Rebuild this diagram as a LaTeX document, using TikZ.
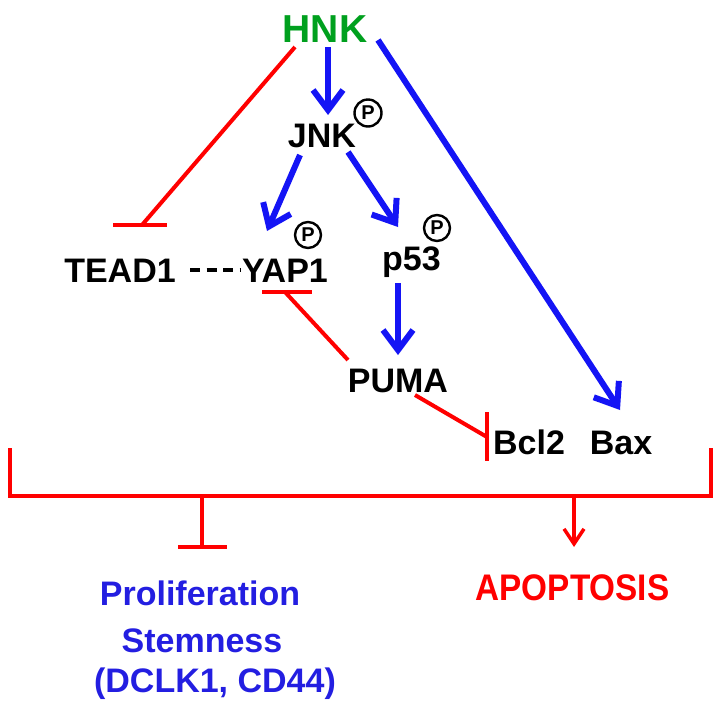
\documentclass[tikz,border=0pt]{standalone}
\usepackage{fontspec}
\setmainfont{Liberation Sans}
\newfontfamily\narrowf{Liberation Sans}[FakeStretch=0.9]
\usetikzlibrary{arrows.meta}
\definecolor{hnkgreen}{RGB}{0,160,30}
\definecolor{arrblue}{RGB}{20,20,245}
\definecolor{txtblue}{RGB}{35,30,225}
\definecolor{inhred}{RGB}{255,0,0}
\begin{document}
\begin{tikzpicture}[x=1pt,y=-1pt,
  lab/.style={inner sep=0pt,anchor=base,font=\fontsize{34}{40}\selectfont\bfseries},
  act/.style={draw=arrblue,line width=6pt,-{Straight Barb[length=20pt,width=30pt]}},
  inh/.style={draw=inhred,line width=4pt},
  brk/.style={draw=inhred,line width=4pt},
  phos/.style={circle,draw,line width=2.4pt,inner sep=0pt,minimum size=27pt,font=\fontsize{20}{20}\selectfont\bfseries}]
\useasboundingbox (0,0) rectangle (720,705);
% labels
\node[lab,text=hnkgreen,font=\fontsize{39}{44}\selectfont\bfseries] (hnk) at (325,42) {HNK};
\node[lab] (jnk) at (322,147) {JNK};
\node[lab] (tead) at (120,282) {TEAD1};
\node[lab] (yap) at (285,282) {YAP1};
\node[lab] (p53) at (411.5,270) {p53};
\node[lab] (puma) at (398,392) {PUMA};
\node[lab] (bcl) at (529,454) {Bcl2};
\node[lab] (bax) at (621,454) {Bax};
\node[phos] (pj) at (368,113) {P};
\node[phos,minimum size=26pt] (py) at (308,235) {P};
\node[phos,minimum size=26pt] (pp) at (437,228) {P};
\node[lab,text=txtblue] (prol) at (200,605) {Proliferation};
\node[lab,text=txtblue] (stem) at (202,652) {Stemness};
\node[lab,text=txtblue] (dclk) at (215,692) {(DCLK1, CD44)};
\node[lab,text=inhred,font=\fontsize{37}{42}\selectfont\bfseries\narrowf] (apo) at (572.5,600) {APOPTOSIS};
% endpoints
\coordinate (a1s) at (328,47);  \coordinate (a1e) at (328,115);
\coordinate (a2s) at (300,155); \coordinate (a2e) at (267,231);
\coordinate (a3s) at (348,152); \coordinate (a3e) at (398,227);
\coordinate (a4s) at (398,283); \coordinate (a4e) at (398,355);
\coordinate (a5s) at (378,40);  \coordinate (a5e) at (620,410);
\coordinate (i1s) at (295,47);  \coordinate (i1e) at (142,225);
\coordinate (i2s) at (348,360); \coordinate (i2e) at (285,292);
\coordinate (i3s) at (415,395); \coordinate (i3e) at (487,437);
\coordinate (ds) at (190,270);  \coordinate (de) at (240.5,270);
\coordinate (bl) at (10,448); \coordinate (blc) at (10,496);
\coordinate (brc) at (711,496); \coordinate (br) at (711,448);
\coordinate (ts) at (202,496); \coordinate (te) at (202,547);
\coordinate (as) at (574,496); \coordinate (ae) at (574,547);
% activations
\draw[act] (a1s) -- (a1e);
\draw[act] (a2s) -- (a2e);
\draw[act] (a3s) -- (a3e);
\draw[act] (a4s) -- (a4e);
\draw[act] (a5s) -- (a5e);
% inhibitions
\draw[inh] (i1s) -- (i1e);
\draw[inh] (113,225) -- (167,225);
\draw[inh] (i2s) -- (i2e);
\draw[inh] (262,292) -- (312,292);
\draw[inh] (i3s) -- (i3e);
\draw[inh] (487,412) -- (487,461);
% dashed link
\draw[line width=3.5pt,dash pattern=on 10pt off 6.5pt] (ds) -- (de);
% bracket
\draw[brk,line join=miter] (bl) -- (blc) -- (brc) -- (br);
\draw[brk] (ts) -- (te);
\draw[brk] (178,547) -- (227,547);
\draw[draw=inhred,line width=3.5pt,-{Straight Barb[length=15pt,width=20pt]}] (as) -- (ae);
\end{tikzpicture}
\end{document}
